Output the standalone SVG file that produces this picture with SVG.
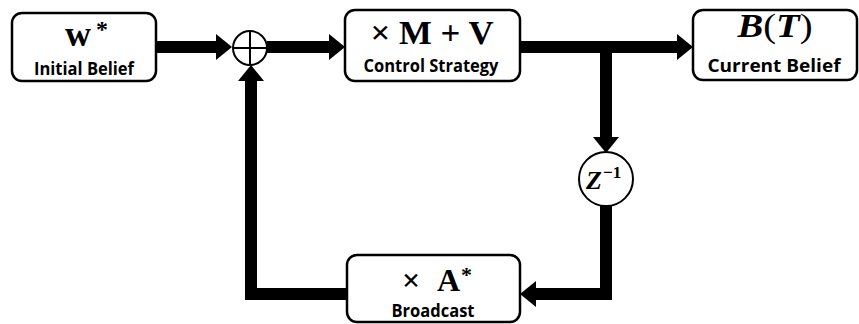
<svg xmlns="http://www.w3.org/2000/svg" width="859" height="324" viewBox="0 0 859 324">
<style>
.box{fill:#fff;stroke:#000;stroke-width:2.5}
.wire{fill:none;stroke:#000;stroke-width:12;stroke-linejoin:miter}
.lbl{font-family:"Open Sans","Liberation Sans",sans-serif;font-weight:bold;font-size:18px;fill:#000}
.math{font-family:"Liberation Serif","DejaVu Serif",serif;font-weight:bold;fill:#000}
.circ{fill:#fff;stroke:#000;stroke-width:2}
</style>
<defs>
<marker id="ah" markerUnits="userSpaceOnUse" markerWidth="16" markerHeight="26" refX="0" refY="13" orient="auto" overflow="visible">
<path d="M0,0 L16,13 L0,26 z" fill="#000"/>
</marker>
</defs>
<g id="connectors">
<path class="wire" d="M156,47 H216" marker-end="url(#ah)"/>
<path class="wire" d="M267,47 H329" marker-end="url(#ah)"/>
<path class="wire" d="M520,47 H677" marker-end="url(#ah)"/>
<path class="wire" d="M606,41 V137" marker-end="url(#ah)"/>
<path class="wire" d="M606,205 V294 H536" marker-end="url(#ah)"/>
<path class="wire" d="M347,294 H251 V81" marker-end="url(#ah)"/>
</g>
<g id="initial-belief">
<rect class="box" x="12" y="13" width="144" height="68" rx="10"/>
<text class="math" x="65" y="46" font-size="36">w</text>
<text class="math" x="96" y="37" font-size="24" font-weight="normal">*</text>
<text class="lbl" x="84" y="75" text-anchor="middle" textLength="100" lengthAdjust="spacingAndGlyphs">Initial Belief</text>
</g>
<g id="sum">
<circle class="circ" cx="250" cy="48" r="17"/>
<path d="M233,48 H267 M250,31 V65" stroke="#000" stroke-width="2"/>
</g>
<g id="control-strategy">
<rect class="box" x="345" y="10" width="175" height="71" rx="10"/>
<text class="math" x="432" y="44" font-size="33" text-anchor="middle" textLength="123" lengthAdjust="spacingAndGlyphs">× M + V</text>
<text class="lbl" x="431" y="72" text-anchor="middle" textLength="135" lengthAdjust="spacingAndGlyphs">Control Strategy</text>
</g>
<g id="current-belief">
<rect class="box" x="693" y="10" width="164" height="70" rx="10"/>
<text class="math" x="775" y="37" font-size="34" text-anchor="middle" textLength="75" lengthAdjust="spacingAndGlyphs"><tspan font-style="italic">B</tspan><tspan font-weight="normal">(</tspan><tspan font-style="italic">T</tspan><tspan font-weight="normal">)</tspan></text>
<text class="lbl" x="774" y="72" text-anchor="middle" textLength="133" lengthAdjust="spacingAndGlyphs">Current Belief</text>
</g>
<g id="delay">
<circle class="circ" cx="606" cy="179" r="27"/>
<text class="math" x="586" y="189" font-size="26" font-style="italic">Z</text>
<text class="math" x="603" y="178" font-size="17">−1</text>
</g>
<g id="broadcast">
<rect class="box" x="347" y="255" width="173" height="67" rx="10"/>
<text class="math" x="402" y="291" font-size="32" textLength="58" lengthAdjust="spacing">× A</text>
<text class="math" x="461" y="282" font-size="22" font-weight="normal">*</text>
<text class="lbl" x="433" y="317" text-anchor="middle" textLength="83" lengthAdjust="spacingAndGlyphs">Broadcast</text>
</g>
</svg>
